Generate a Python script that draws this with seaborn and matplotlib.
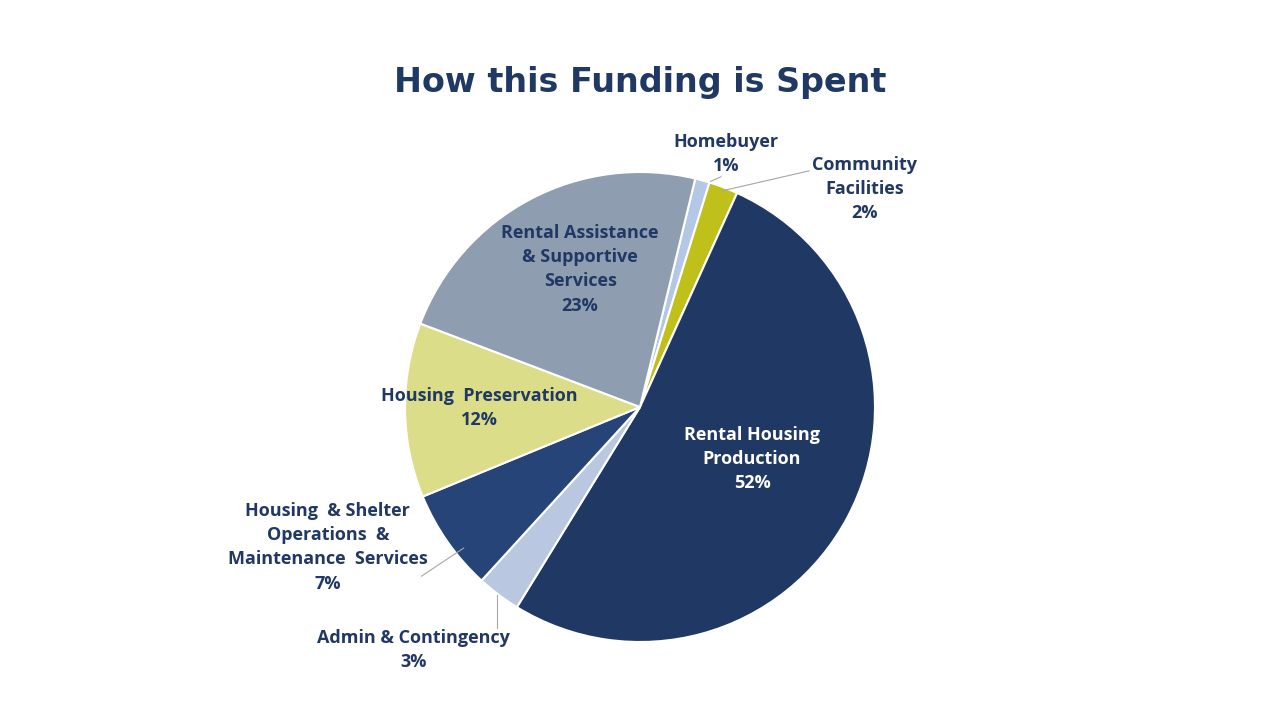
import matplotlib
matplotlib.use("Agg")
import matplotlib.pyplot as plt
import seaborn as sns

categories = ["Homebuyer", "Community\nFacilities", "Rental Housing\nProduction", "Admin & Contingency",
              "Housing  & Shelter\nOperations  &\nMaintenance  Services", "Housing  Preservation",
              "Rental Assistance\n& Supportive\nServices"]
values = [1, 2, 52, 3, 7, 12, 23]
colors = ["#b4c7e7", "#bfc11a", "#203864", "#b9c8e0", "#264478", "#dcdd88", "#8f9db0"]
label_pos = [(0.366, 1.077), (0.957, 0.928), (0.477, -0.221), (-0.962, -1.034),
             (-1.328, -0.596), (-0.685, -0.004), (-0.255, 0.587)]
text_colors = ["#203864", "#203864", "white", "#203864", "#203864", "#203864", "#203864"]
leaders = {0: [(0.30, 0.96), (0.345, 0.98)], 1: [(0.35, 0.92), (0.72, 1.005)],
           3: [(-0.608, -0.80), (-0.608, -0.94)], 4: [(-0.75, -0.60), (-0.93, -0.72)]}

sns.set_theme(style="white")
plt.rcParams['font.family'] = ['Open Sans', 'DejaVu Sans']
fig = plt.figure(figsize=(12.8, 7.2), dpi=100)
ax = fig.add_axes([(640 - 235) / 1280, (720 - 407 - 235) / 720, 470 / 1280, 470 / 720])
ax.pie(values, colors=colors, startangle=76.4, counterclock=False, radius=1,
       wedgeprops=dict(edgecolor="white", linewidth=1.5))
ax.set_xlim(-1, 1); ax.set_ylim(-1, 1); ax.set_aspect("equal"); ax.axis("off")
for i, (c, v) in enumerate(zip(categories, values)):
    x, y = label_pos[i]
    ax.text(x, y, f"{c}\n{v}%", ha="center", va="center", fontsize=13, fontweight="bold",
            color=text_colors[i], linespacing=1.45, clip_on=False)
    if i in leaders:
        (x1, y1), (x2, y2) = leaders[i]
        ax.plot([x1, x2], [y1, y2], color="#a6a6a6", lw=0.8, clip_on=False)
fig.text(0.5, 0.885, "How this Funding is Spent", ha="center", va="center", fontsize=24,
         fontweight="bold", color="#203864", family=["Liberation Sans Narrow", "DejaVu Sans"])
fig.savefig("out.png", dpi=100, facecolor="white")
